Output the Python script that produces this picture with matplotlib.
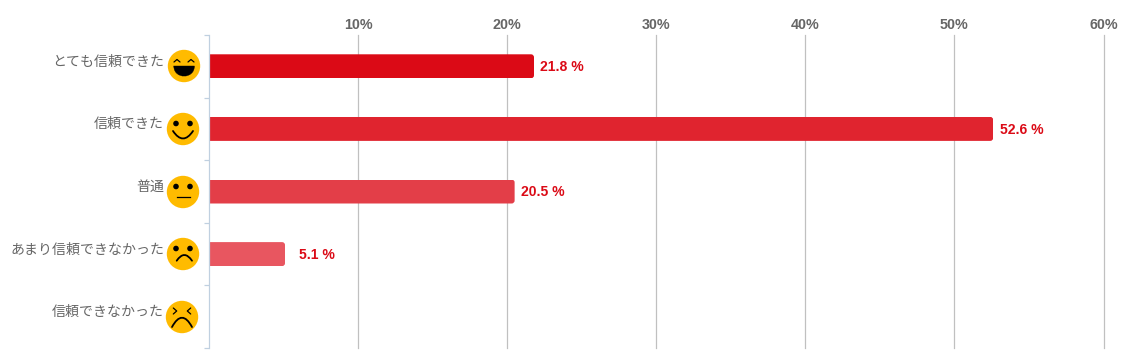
import matplotlib
matplotlib.use("Agg")
import matplotlib.pyplot as plt
from matplotlib.patches import Circle, FancyBboxPatch, PathPatch
from matplotlib.path import Path
from matplotlib.transforms import ScaledTranslation, IdentityTransform

plt.rcParams['font.family'] = ['Noto Sans CJK JP', 'DejaVu Sans']

categories = ['とても信頼できた', '信頼できた', '普通', 'あまり信頼できなかった', '信頼できなかった']
values = [21.8, 52.6, 20.5, 5.1, 0]
bar_colors = ['#DB0A16', '#E0242F', '#E33E48', '#E85660', '#EC6F77']
label_offsets = [7, 7, 7, 15, 7]
x_ticks = [10, 20, 30, 40, 50, 60]
x_tick_labels = ['10%', '20%', '30%', '40%', '50%', '60%']
W, H = 1124, 363
L, R, T, B = 209, 1103.5, 35, 348

fig = plt.figure(figsize=(W / 100, H / 100), dpi=100, facecolor='white')
ax = fig.add_axes([L / W, 1 - B / H, (R - L) / W, (B - T) / H])
ax.set_xlim(0, 60)
ax.set_ylim(len(categories) - 0.5, -0.5)
for s in ['top', 'right', 'bottom']:
    ax.spines[s].set_visible(False)
ax.spines['left'].set_color('#C0D0E0')
ax.spines['left'].set_linewidth(0.9)
ax.spines['left'].set_zorder(5)

ax.xaxis.tick_top()
ax.set_xticks(x_ticks, x_tick_labels, fontfamily='Liberation Sans', fontweight='bold',
              fontsize=10.3, color='#666666')
ax.tick_params(axis='x', length=0, pad=2.4)
ax.grid(axis='x', color='#C0C0C0', linewidth=0.9)
ax.set_axisbelow(True)
for gl in ax.get_xgridlines():
    gl.set_clip_on(False)

ypos = list(range(len(categories)))
ax.set_yticks(ypos, categories, fontsize=10.05, color='#666666')
ax.set_yticks([y - 0.5 for y in ypos] + [ypos[-1] + 0.5], minor=True)
ax.tick_params(axis='y', which='major', length=0, pad=32.4)
ax.tick_params(axis='y', which='minor', length=3.6, width=0.9, color='#C0D0E0')
for lab in ax.get_yticklabels():
    lab.set_transform(lab.get_transform() + ScaledTranslation(0, 6 / 100, fig.dpi_scale_trans))

bars = ax.barh(ypos, values, height=24 / 62.6, color=bar_colors, linewidth=0, zorder=3)
fig.canvas.draw()
for bar in bars:
    if bar.get_width() <= 0:
        continue
    (x0, y0), (x1, y1) = ax.transData.transform(
        [(bar.get_x(), bar.get_y() + bar.get_height()), (bar.get_x() + bar.get_width(), bar.get_y())])
    clip = FancyBboxPatch((x0 - 10, y0), x1 - x0 + 10, y1 - y0,
                          boxstyle='round,pad=0,rounding_size=3', transform=IdentityTransform())
    bar.set_clip_path(clip)

for y, v, off in zip(ypos, values, label_offsets):
    if v > 0:
        ax.annotate(f'{v} %', (v, y), xytext=((off - 0.6) * 0.72, -0.7), textcoords='offset points',
                    ha='left', va='center', fontfamily='Liberation Sans', fontweight='bold',
                    fontsize=10.1, color='#DB0A16', zorder=4)

# Smiley icons beside the category labels, drawn in a pixel-space overlay
ov = fig.add_axes([0, 0, 1, 1], facecolor='none')
ov.set_xlim(0, W)
ov.set_ylim(H, 0)
ov.axis('off')


def curve(pts, codes, fill=False, lw=1.4):
    ov.add_patch(PathPatch(Path(pts, codes), facecolor='black' if fill else 'none',
                           edgecolor='black', linewidth=lw, capstyle='round', joinstyle='round'))


def arc(cx, cy, x0, y0, x1, y1, yc, lw=1.3):
    curve([(cx + x0, cy + y0), (cx + (x0 + x1) / 2, cy + yc), (cx + x1, cy + y1)],
          [Path.MOVETO, Path.CURVE3, Path.CURVE3], lw=lw)


def dots(cx, cy):
    for dx in (-7, 7):
        ov.add_patch(Circle((cx + dx, cy - 5.5), 2.8, facecolor='black', edgecolor='none'))


def face(cx, cy):
    ov.add_patch(Circle((cx, cy), 16.2, facecolor='#FFBB00', edgecolor='none'))


cx, cy = 184, 66
face(cx, cy)
for dx in (-7, 7):
    curve([(cx + dx - 3, cy - 4), (cx + dx, cy - 6.5), (cx + dx + 3, cy - 4)],
          [Path.MOVETO, Path.LINETO, Path.LINETO], lw=0.9)
curve([(cx - 10.2, cy), (cx + 10.4, cy), (cx + 10.4, cy + 13.5), (cx - 10.2, cy + 13.5), (cx - 10.2, cy)],
      [Path.MOVETO, Path.LINETO, Path.CURVE4, Path.CURVE4, Path.CURVE4], fill=True, lw=0.3)

cx, cy = 183, 129
face(cx, cy)
dots(cx, cy)
arc(cx, cy, -10, 2, 10, 2, 17)

cx, cy = 183, 192
face(cx, cy)
dots(cx, cy)
ov.plot([cx - 6.5, cx + 6.5], [cy + 5.4, cy + 5.4], color='black', lw=0.9)

cx, cy = 183, 254
face(cx, cy)
dots(cx, cy)
arc(cx, cy, -6.3, 6.7, 9, 6.7, -4.7)

cx, cy = 182, 317
face(cx, cy)
for dx, s in ((-7, 1), (7, -1)):
    curve([(cx + dx - 1.7 * s, cy - 9), (cx + dx + 1.7 * s, cy - 6), (cx + dx - 1.7 * s, cy - 3)],
          [Path.MOVETO, Path.LINETO, Path.LINETO], lw=0.9)
arc(cx, cy, -10, 10, 10, 10, -8.6)

fig.savefig('out.png', dpi=100, facecolor='white')
